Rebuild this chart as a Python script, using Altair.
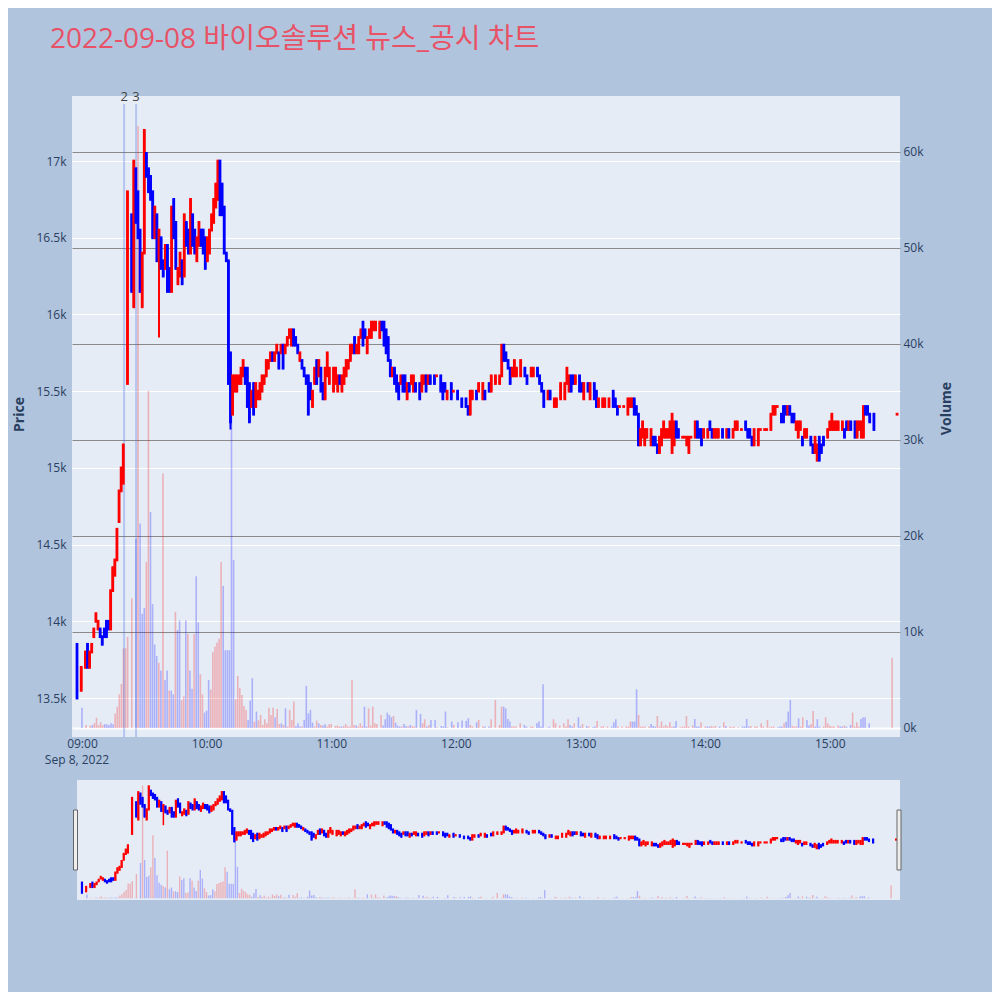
import altair as alt
import pandas as pd

# ---------------- data ----------------
title_text = "2022-09-08 바이오솔루션 뉴스_공시 차트"
date_label = "Sep 8, 2022"

# minute offset from 09:00 for each 1-minute candle
minutes = [
    # 09:00 - 09:13
    0, 2, 4, 5, 6, 7, 8, 9, 10, 11,
    12, 13, 14, 15, 16, 17, 18, 19, 20, 21,
    22, 24, 26, 27, 28, 29, 30, 31, 32, 33,
    34, 35, 36, 37, 38, 39, 40, 41, 42, 43,
    44, 45, 46, 47, 48, 49, 50, 51, 52, 53,
    54, 55, 56, 57, 58, 59, 60, 61, 62, 63,
    64, 65, 66, 67, 68, 69, 70, 71, 72, 73,
    # 10:14 - 11:47
    74, 75, 76, 77, 78, 79, 80, 81, 82, 83,
    84, 85, 86, 87, 88, 89, 90, 91, 92, 93,
    94, 95, 96, 97, 98, 99, 100, 101, 102, 103,
    104, 105, 106, 107, 108, 109, 110, 111, 112, 113,
    114, 115, 116, 117, 118, 119, 120, 122, 123, 124,
    125, 126, 127, 128, 129, 130, 131, 132, 133, 134,
    135, 136, 137, 138, 139, 140, 141, 142, 144, 145,
    146, 147, 148, 149, 150, 151, 152, 153, 154, 155,
    156, 157, 158, 159, 160, 161, 163, 164, 165, 166,
    167,
    # 11:48 - 13:23
    168, 170, 171, 173, 174, 175, 176, 178, 179, 181,
    183, 185, 186, 187, 188, 190, 191, 193, 194, 196,
    197, 199, 201, 202, 203, 204, 205, 206, 207, 208,
    209, 211, 213, 214, 216, 217, 219, 220, 221, 222,
    224, 225, 227, 228, 230, 232, 233, 234, 235, 236,
    237, 239, 240, 241, 243, 244, 246, 247, 248, 250,
    251, 253, 255, 256, 257, 258, 260, 262, 263,
    # 13:24 - 15:30
    264, 265, 266, 267, 268, 269, 270, 271, 273, 274,
    275, 276, 277, 278, 279, 280, 281, 282, 283, 284,
    285, 286, 288, 289, 290, 291, 292, 294, 295, 296,
    297, 298, 300, 301, 302, 303, 304, 305, 307, 309,
    310, 312, 313, 314, 316, 318, 319, 320, 321, 322,
    324, 325, 327, 328, 330, 331, 332, 333, 335, 336,
    337, 338, 339, 340, 341, 342, 343, 344, 345, 346,
    347, 349, 350, 351, 352, 353, 354, 355, 357, 358,
    359, 360, 361, 362, 364, 365, 366, 367, 368, 370,
    371, 372, 373, 374, 375, 376, 377, 379, 390,
]

opens = [
    13850, 13550, 13700, 13850, 13700, 13800, 13900, 14000, 13950, 13950,
    13900, 13950, 14000, 14000, 13950, 14200, 14300, 14400, 14650, 14850,
    14900, 15550, 16650, 16050, 16950, 16800, 16550, 16050, 16400, 17050,
    16950, 16900, 16800, 16500, 16650, 16350, 16500, 16350, 16300, 16450,
    16300, 16150, 16750, 16600, 16200, 16250, 16350, 16250, 16600, 16550,
    16400, 16650, 16550, 16350, 16450, 16550, 16550, 16500, 16350, 16400,
    16550, 16600, 16700, 16750, 17000, 16850, 16700, 16400, 16350, 15750,
    15350, 15500, 15500, 15550, 15550, 15600, 15650, 15650, 15550, 15400,
    15550, 15400, 15450, 15450, 15500, 15550, 15600, 15650, 15700, 15750,
    15700, 15750, 15750, 15750, 15800, 15750, 15800, 15850, 15800, 15900,
    15850, 15800, 15700, 15700, 15650, 15600, 15600, 15550, 15400, 15550,
    15700, 15600, 15650, 15550, 15450, 15600, 15550, 15500, 15550, 15500,
    15600, 15500, 15550, 15600, 15650, 15700, 15750, 15850, 15750, 15750,
    15850, 15950, 15900, 15750, 15850, 15850, 15900, 15900, 15850, 15950,
    15950, 15900, 15850, 15700, 15600, 15650, 15600, 15550, 15550, 15600,
    15600, 15450, 15550, 15550, 15500, 15550, 15550, 15500, 15550, 15600,
    15550,
    15600, 15600, 15600, 15600, 15550, 15550, 15450, 15550, 15500, 15500,
    15450, 15450, 15400, 15350, 15450, 15500, 15500, 15450, 15500, 15550,
    15500, 15550, 15550, 15600, 15800, 15750, 15700, 15650, 15600, 15600,
    15600, 15600, 15650, 15600, 15600, 15600, 15650, 15600, 15550, 15500,
    15450, 15500, 15400, 15400, 15450, 15450, 15550, 15500, 15600, 15600,
    15550, 15600, 15550, 15450, 15550, 15450, 15550, 15500, 15400, 15400,
    15400, 15400, 15500, 15450, 15400, 15400, 15400, 15350, 15400,
    15400, 15450, 15400, 15350, 15150, 15200, 15150, 15200, 15150, 15200,
    15200, 15150, 15100, 15150, 15200, 15200, 15200, 15200, 15100, 15150,
    15300, 15250, 15200, 15200, 15150, 15100, 15200, 15200, 15300, 15250,
    15250, 15200, 15200, 15300, 15250, 15200, 15200, 15200, 15250, 15200,
    15250, 15200, 15250, 15250, 15250, 15300, 15250, 15250, 15200, 15150,
    15150, 15250, 15250, 15250, 15250, 15350, 15350, 15400, 15350, 15400,
    15400, 15350, 15400, 15350, 15350, 15250, 15200, 15250, 15200, 15200,
    15200, 15200, 15150, 15100, 15050, 15200, 15150, 15200, 15200, 15250,
    15250, 15250, 15250, 15250, 15250, 15250, 15300, 15250, 15300, 15300,
    15200, 15250, 15200, 15200, 15400, 15400, 15350, 15350, 15350,
]

closes = [
    13500, 13700, 13800, 13700, 13800, 13850, 13950, 14050, 14000, 13900,
    13850, 13900, 13900, 13950, 14200, 14350, 14400, 14600, 14850, 15000,
    15150, 16800, 16150, 17000, 16600, 16500, 16150, 16400, 17200, 16900,
    16800, 16750, 16500, 16700, 16350, 16550, 16300, 16250, 16450, 16150,
    16150, 16700, 16500, 16300, 16300, 16400, 16200, 16650, 16450, 16400,
    16750, 16450, 16400, 16500, 16600, 16450, 16400, 16300, 16500, 16550,
    16650, 16750, 16850, 17000, 16650, 16650, 16400, 16350, 15550, 15300,
    15600, 15600, 15600, 15600, 15650, 15700, 15550, 15400, 15300, 15500,
    15350, 15550, 15500, 15550, 15600, 15600, 15700, 15700, 15750, 15700,
    15750, 15800, 15650, 15800, 15650, 15800, 15850, 15900, 15900, 15800,
    15800, 15750, 15750, 15650, 15600, 15550, 15350, 15450, 15500, 15650,
    15550, 15700, 15500, 15450, 15650, 15750, 15650, 15650, 15650, 15600,
    15550, 15600, 15650, 15700, 15700, 15800, 15800, 15750, 15800, 15850,
    15900, 15800, 15850, 15850, 15900, 15950, 15950, 15950, 15950, 15900,
    15800, 15750, 15700, 15600, 15650, 15550, 15500, 15450, 15600, 15500,
    15500, 15550, 15500, 15600, 15600, 15500, 15450, 15600, 15600, 15500,
    15600,
    15550, 15550, 15600, 15500, 15450, 15500, 15500, 15450, 15500, 15450,
    15400, 15400, 15350, 15500, 15500, 15450, 15550, 15550, 15450, 15500,
    15600, 15600, 15600, 15800, 15700, 15700, 15650, 15550, 15650, 15700,
    15650, 15700, 15600, 15550, 15650, 15650, 15600, 15550, 15500, 15400,
    15500, 15450, 15450, 15450, 15550, 15550, 15650, 15600, 15500, 15550,
    15600, 15500, 15500, 15550, 15500, 15550, 15450, 15400, 15450, 15450,
    15450, 15450, 15400, 15400, 15350, 15400, 15400, 15450, 15450,
    15450, 15350, 15350, 15150, 15250, 15300, 15250, 15250, 15250, 15150,
    15150, 15100, 15200, 15250, 15300, 15250, 15250, 15300, 15350, 15300,
    15200, 15200, 15200, 15200, 15200, 15200, 15200, 15300, 15200, 15200,
    15150, 15250, 15250, 15250, 15200, 15250, 15250, 15250, 15200, 15250,
    15200, 15250, 15300, 15300, 15250, 15250, 15200, 15200, 15150, 15250,
    15250, 15250, 15250, 15250, 15350, 15400, 15400, 15400, 15300, 15300,
    15350, 15400, 15350, 15300, 15300, 15300, 15300, 15300, 15150, 15250,
    15250, 15150, 15100, 15200, 15150, 15050, 15100, 15150, 15250, 15300,
    15350, 15300, 15300, 15300, 15300, 15200, 15250, 15300, 15250, 15200,
    15300, 15300, 15300, 15400, 15350, 15350, 15300, 15250, 15350,
]

volumes = [
    2100, 300, 250, 300, 500, 1070, 300, 600, 300, 400,
    400, 300, 500, 400, 1500, 2200, 3500, 4600, 8300, 8300,
    9500, 13500, 19700, 62700, 21300, 11900, 12500, 17300, 35100, 22500,
    12900, 8700, 7500, 6800, 6000, 26500, 5000, 6000, 3900, 3900,
    3500, 12100, 10200, 11200, 2900, 3300, 11200, 9800, 6000, 4100,
    9800, 15800, 11000, 5600, 3500, 1600, 1800, 5000, 4000, 7900,
    8500, 8900, 9300, 17300, 14800, 8100, 8100, 8100, 34700, 17500,
    3000, 5420, 4140, 3440, 2300, 1880, 840, 2850, 5180, 670,
    1710, 800, 1360, 320, 910, 490, 2120, 1360, 2120, 1120,
    1980, 420, 490, 320, 2050, 150, 1880, 840, 2750, 210,
    490, 150, 150, 840, 4380, 1530, 1880, 560, 150, 770,
    490, 320, 250, 390, 150, 390, 420, 210, 250, 150,
    150, 210, 420, 150, 150, 5000, 320, 250, 150, 490,
    210, 2230, 150, 2050, 250, 2230, 490, 420, 1360, 250,
    910, 1600, 1360, 1120, 1260, 560, 250, 150, 150, 420,
    210, 150, 320, 210, 150, 1880, 1460, 490, 910, 150,
    320,
    840, 840, 80, 210, 150, 1710, 80, 670, 320, 600,
    770, 740, 1010, 320, 150, 600, 840, 150, 150, 150,
    910, 2920, 320, 2230, 2230, 2050, 940, 670, 150, 150,
    150, 490, 320, 150, 150, 150, 490, 670, 150, 4550,
    40, 150, 910, 490, 250, 490, 150, 910, 320, 150,
    490, 1120, 150, 420, 210, 150, 80, 150, 740, 150,
    210, 150, 150, 600, 910, 150, 150, 150, 150,
    670, 670, 670, 4030, 1360, 150, 150, 150, 150, 420,
    210, 150, 1260, 150, 670, 150, 320, 150, 600, 150,
    150, 740, 80, 150, 150, 1260, 150, 250, 940, 150,
    150, 600, 150, 150, 150, 210, 150, 210, 150, 600,
    210, 150, 80, 150, 80, 150, 150, 940, 150, 210,
    150, 150, 490, 150, 840, 80, 150, 150, 80, 150,
    150, 490, 670, 1710, 2920, 210, 150, 150, 1010, 150,
    1120, 840, 250, 420, 1780, 150, 910, 150, 150, 1120,
    490, 250, 150, 150, 250, 150, 150, 250, 150, 320,
    1600, 150, 600, 150, 940, 1120, 1120, 490, 7300,
]

# wick extremes that reach beyond the candle body
wick_lows = {0: 13500, 24: 15550, 39: 15850, 73: 15250}
wick_highs = {}

news_minutes = [22.4, 28.1]
news_labels = ["2", "3"]

price_ticks = [13500, 14000, 14500, 15000, 15500, 16000, 16500, 17000]
volume_ticks = [0, 10000, 20000, 30000, 40000, 50000, 60000]
time_ticks = [0, 60, 120, 180, 240, 300, 360]

assert len(minutes) == len(opens) == len(closes) == len(volumes), (
    len(minutes), len(opens), len(closes), len(volumes))

highs = [max(o, c, wick_highs.get(m, o)) for m, o, c in zip(minutes, opens, closes)]
lows = [min(o, c, wick_lows.get(m, o)) for m, o, c in zip(minutes, opens, closes)]
direction = ["up" if c >= o else "down" for o, c in zip(opens, closes)]

df = pd.DataFrame({"m": minutes, "o": opens, "c": closes, "h": highs,
                   "l": lows, "v": volumes, "dir": direction})
news_df = pd.DataFrame({"m": news_minutes, "label": news_labels})
date_df = pd.DataFrame({"m": [0], "t": [date_label]})

# ---------------- layout ----------------
W, H = 828, 641
X_DOM = [-2.38, 391.4]
P_DOM = [13246, 17424]
V_DOM = [-938, 65833]
SL_TOP, SL_BOT = 684, 804
FONT = "Open Sans"
INK = "#2a3f5f"


def xs_main():
    return alt.Scale(domain=X_DOM, range=[0, W], nice=False, zero=False)


def xs_slider():
    return alt.Scale(domain=X_DOM, range=[5, 827], nice=False, zero=False)


def ps_main():
    return alt.Scale(domain=P_DOM, range=[H, 0], nice=False, zero=False)


def ps_slider():
    return alt.Scale(domain=P_DOM, range=[SL_BOT, SL_TOP], nice=False, zero=False)


def vs_main():
    return alt.Scale(domain=V_DOM, range=[H, 0], nice=False, zero=False)


def vs_slider():
    return alt.Scale(domain=V_DOM, range=[SL_BOT, SL_TOP], nice=False, zero=False)


color = alt.Color("dir:N", scale=alt.Scale(domain=["up", "down"],
                                           range=["#FF0000", "#0000FF"]), legend=None)

x_axis = alt.Axis(values=time_ticks, title=None, grid=False, domain=False,
                  ticks=False, tickSize=0, labelPadding=1, labelFont=FONT,
                  labelFontSize=12, labelColor=INK,
                  labelExpr="(datum.value < 60 ? '09' : '' + (9 + floor(datum.value / 60))) + ':00'")

price_axis = alt.Axis(orient="left", values=price_ticks, format="~s", title="Price",
                      grid=True, gridColor="white", gridWidth=1, domain=False,
                      ticks=False, tickSize=0, labelPadding=6, labelFont=FONT,
                      labelFontSize=12, labelColor=INK, titleFont=FONT,
                      titleFontSize=14, titleFontWeight="bold", titleColor=INK,
                      titleAngle=270, titleX=-53, titleY=318, titleAlign="center",
                      titleBaseline="middle")

vol_axis = alt.Axis(orient="right", values=volume_ticks, format="~s", title="Volume",
                    grid=True,
                    gridColor={"condition": {"test": "datum.value === 0", "value": "white"},
                               "value": "#8a8a8a"},
                    gridWidth={"condition": {"test": "datum.value === 0", "value": 2},
                               "value": 1},
                    domain=False, ticks=False, tickSize=0, labelPadding=3,
                    labelFont=FONT, labelFontSize=12, labelColor=INK, titleFont=FONT,
                    titleFontSize=14, titleFontWeight="bold", titleColor=INK,
                    titleAngle=270, titleX=46, titleY=312, titleAlign="center",
                    titleBaseline="middle")

base = alt.Chart(df)

vol_main = base.mark_bar(size=1.6, opacity=0.25).encode(
    x=alt.X("m:Q", scale=xs_main(), axis=x_axis),
    y=alt.Y("v:Q", scale=vs_main(), axis=vol_axis, stack=None),
    color=color)

news_rule = alt.Chart(news_df).mark_rule(color="royalblue", opacity=0.3, strokeWidth=2).encode(
    x=alt.X("m:Q", scale=xs_main(), axis=None),
    y=alt.value(8), y2=alt.value(H))

news_text = alt.Chart(news_df).mark_text(fontSize=13, color="#444444", font=FONT,
                                         baseline="alphabetic", align="center").encode(
    x=alt.X("m:Q", scale=xs_main(), axis=None),
    y=alt.value(5), text="label:N")

wick_main = base.mark_rule(strokeWidth=2).encode(
    x=alt.X("m:Q", scale=xs_main(), axis=None),
    y=alt.Y("l:Q", scale=ps_main(), axis=price_axis), y2="h:Q",
    color=color)

body_main = base.mark_rule(strokeWidth=2.8, strokeCap="square").encode(
    x=alt.X("m:Q", scale=xs_main(), axis=None),
    y=alt.Y("o:Q", scale=ps_main(), axis=None), y2="c:Q",
    color=color)

date_text = alt.Chart(date_df).mark_text(fontSize=12, color=INK, font=FONT,
                                         baseline="middle", align="center").encode(
    x=alt.X("m:Q", scale=xs_main(), axis=None),
    y=alt.value(664), text="t:N")

slider_bg = alt.Chart(date_df).mark_rect(color="#E5ECF6").encode(
    x=alt.value(5), x2=alt.value(828), y=alt.value(SL_TOP), y2=alt.value(SL_BOT))

vol_slider = base.mark_bar(size=1.4, opacity=0.25).encode(
    x=alt.X("m:Q", scale=xs_slider(), axis=None),
    y=alt.Y("v:Q", scale=vs_slider(), axis=None, stack=None),
    color=color)

wick_slider = base.mark_rule(strokeWidth=1.5).encode(
    x=alt.X("m:Q", scale=xs_slider(), axis=None),
    y=alt.Y("l:Q", scale=ps_slider(), axis=None), y2="h:Q",
    color=color)

body_slider = base.mark_rule(strokeWidth=2.2, strokeCap="square").encode(
    x=alt.X("m:Q", scale=xs_slider(), axis=None),
    y=alt.Y("o:Q", scale=ps_slider(), axis=None), y2="c:Q",
    color=color)

handle_l = alt.Chart(date_df).mark_rect(fill="#eeeeee", stroke="#666666", strokeWidth=1).encode(
    x=alt.value(1.5), x2=alt.value(5.5), y=alt.value(714), y2=alt.value(774))
handle_r = alt.Chart(date_df).mark_rect(fill="#eeeeee", stroke="#666666", strokeWidth=1).encode(
    x=alt.value(825), x2=alt.value(829), y=alt.value(714), y2=alt.value(774))

chart = alt.layer(
    vol_main, news_rule, news_text, wick_main, body_main, date_text,
    slider_bg, vol_slider, wick_slider, body_slider, handle_l, handle_r
).resolve_scale(
    x="independent", y="independent"
).properties(
    width=W, height=H,
    title=alt.TitleParams(text=title_text, anchor="start", frame="group", dx=-22,
                          offset=15, baseline="alphabetic", fontSize=28,
                          color="#E85266", font="Open Sans, Noto Sans CJK KR",
                          fontWeight="normal"),
    padding={"left": 64, "top": 88, "right": 92, "bottom": 255},
    autosize=alt.AutoSizeParams(type="none"),
    background="#B0C4DE",
).configure_view(fill="#E5ECF6", stroke=None)

chart.save("out.html", embed_options={"renderer": "svg", "actions": False})
